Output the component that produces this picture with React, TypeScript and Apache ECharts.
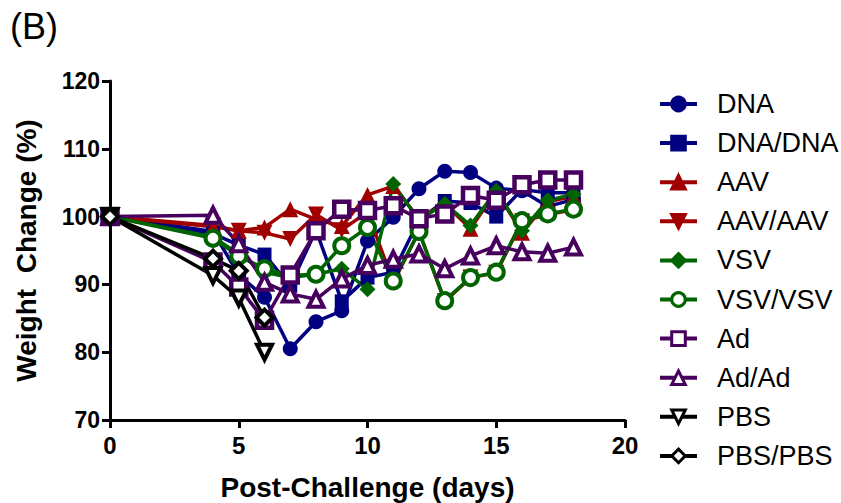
import React, { useEffect, useRef } from 'react';
import * as echarts from 'echarts';

const days = [0, 4, 5, 6, 7, 8, 9, 10, 11, 12, 13, 14, 15, 16, 17, 18];
const pbsDays = [0, 4, 5, 6];

const dna = [100, 97.8, 91.4, 88.1, 80.5, 84.5, 86.1, 96.4, 99.9, 104.1, 106.7, 106.5, 104.2, 103.8, 101.5, 102.5];
const dnaDna = [100, 97.5, 95.8, 94.4, 89.8, 98.0, 87.5, 91.0, 91.8, 99.5, 102.3, 102.0, 100.0, 104.0, 103.5, 103.5];
const aav = [100, 98.5, 97.9, 98.4, 101.1, 99.6, 98.6, 103.2, 104.5, 99.7, 101.9, 98.2, 103.8, 97.6, 102.2, 103.0];
const aavAav = [100, 98.7, 97.9, 97.6, 96.7, 100.3, 98.0, 100.7, 90.3, 97.8, 87.5, 91.0, 91.7, 99.3, 100.3, 101.0];
const vsv = [100, 97.0, 94.5, 91.8, 91.0, 91.5, 92.3, 89.3, 104.8, 99.5, 101.9, 98.7, 103.8, 97.9, 102.4, 103.3];
const vsvVsv = [100, 96.8, 94.2, 92.3, 91.3, 91.5, 95.7, 98.4, 90.5, 97.8, 87.6, 91.0, 91.8, 99.4, 100.4, 101.1];
const ad = [100, 93.3, 89.6, 84.7, 91.4, 97.9, 101.1, 100.9, 101.6, 99.7, 100.4, 103.1, 102.4, 104.7, 105.4, 105.4];
const adAd = [100, 100.2, 96.0, 90.3, 88.6, 87.8, 90.8, 92.8, 93.7, 94.5, 92.3, 94.2, 95.7, 94.8, 94.6, 95.5];
const pbs = [100, 91.3, 88.0, 80.0];
const pbsPbs = [100, 93.8, 92.0, 85.1];

const xTicks = [0, 5, 10, 15, 20];
const yTicks = [70, 80, 90, 100, 110, 120];

const NAVY = '#000080';
const RED = '#a00000';
const GREEN = '#006400';
const PURPLE = '#48005e';
const BLACK = '#000000';
const FONT = 'Liberation Sans';

function pairs(xs: number[], ys: number[]) {
  return xs.map((x, i) => [x, ys[i]]);
}

function mk(name: string, xs: number[], ys: number[], color: string, symbol: string, size: number, opts: any = {}) {
  return {
    name,
    type: 'line',
    data: pairs(xs, ys),
    symbol,
    symbolSize: size,
    showAllSymbol: true,
    lineStyle: { color, width: 3.5 },
    itemStyle: opts.hollow
      ? { color: '#ffffff', borderColor: color, borderWidth: opts.bw || 4 }
      : { color, borderColor: color, borderWidth: 0 },
    ...(opts.rotate ? { symbolRotate: opts.rotate } : {}),
    emphasis: { disabled: true },
  };
}

export default function App() {
  const ref = useRef<HTMLDivElement>(null);
  useEffect(() => {
    if (!ref.current) return;
    const chart = echarts.init(ref.current, null, { renderer: 'svg' });
    chart.setOption({
      animation: false,
      backgroundColor: '#ffffff',
      textStyle: { fontFamily: FONT },
      title: {
        text: '(B)',
        left: 5,
        top: 3,
        textStyle: { fontFamily: FONT, fontSize: 36, fontWeight: 'normal', color: '#000' },
      },
      grid: { left: 110, right: 216, top: 81, bottom: 83, containLabel: false, outerBoundsMode: 'none' },
      legend: {
        orient: 'vertical',
        left: 653,
        top: 84,
        itemWidth: 37,
        itemHeight: 17,
        itemGap: 9.1,
        lineStyle: { width: 4 },
        itemStyle: { borderWidth: 3 },
        textStyle: { fontFamily: FONT, fontSize: 27, color: '#000', padding: [0, 0, 0, 15], lineHeight: 30 },
        data: ['DNA', 'DNA/DNA', 'AAV', 'AAV/AAV', 'VSV', 'VSV/VSV', 'Ad', 'Ad/Ad', 'PBS', 'PBS/PBS'],
      },
      xAxis: {
        type: 'value',
        min: 0,
        max: 20,
        interval: 5,
        name: 'Post-Challenge (days)',
        nameLocation: 'middle',
        nameGap: 53,
        nameTextStyle: { fontFamily: FONT, fontSize: 28, fontWeight: 'bold', color: '#000' },
        axisLine: { show: true, lineStyle: { color: '#000', width: 3 } },
        axisTick: { show: true, length: 8, lineStyle: { color: '#000', width: 3 } },
        axisLabel: {
          fontFamily: FONT, fontSize: 24, fontWeight: 'bold', color: '#000', margin: 13,
          formatter: (v: number) => (xTicks.includes(v) ? String(v) : ''),
        },
        splitLine: { show: false },
      },
      yAxis: {
        type: 'value',
        min: 70,
        max: 120,
        interval: 10,
        name: 'Weight  Change (%)',
        nameLocation: 'middle',
        nameGap: 70,
        nameTextStyle: { fontFamily: FONT, fontSize: 28, fontWeight: 'bold', color: '#000' },
        axisLine: { show: true, lineStyle: { color: '#000', width: 3 } },
        axisTick: { show: true, length: 8, lineStyle: { color: '#000', width: 3 } },
        axisLabel: {
          fontFamily: FONT, fontSize: 23, fontWeight: 'bold', color: '#000', margin: 10,
          formatter: (v: number) => (yTicks.includes(v) ? String(v) : ''),
        },
        splitLine: { show: false },
      },
      series: [
        mk('DNA', days, dna, NAVY, 'circle', 15),
        mk('DNA/DNA', days, dnaDna, NAVY, 'rect', 14),
        mk('AAV', days, aav, RED, 'triangle', 16),
        mk('AAV/AAV', days, aavAav, RED, 'triangle', 16, { rotate: 180 }),
        mk('VSV', days, vsv, GREEN, 'diamond', 16),
        mk('VSV/VSV', days, vsvVsv, GREEN, 'circle', 15, { hollow: true }),
        mk('Ad', days, ad, PURPLE, 'rect', 15, { hollow: true, bw: 4.5 }),
        mk('Ad/Ad', days, adAd, PURPLE, 'triangle', 15, { hollow: true }),
        mk('PBS', pbsDays, pbs, BLACK, 'triangle', 15, { hollow: true, rotate: 180 }),
        mk('PBS/PBS', pbsDays, pbsPbs, BLACK, 'diamond', 16, { hollow: true }),
      ],
    });
    return () => chart.dispose();
  }, []);
  return <div ref={ref} style={{ position: 'fixed', left: 0, top: 0, width: 841, height: 503 }} />;
}
